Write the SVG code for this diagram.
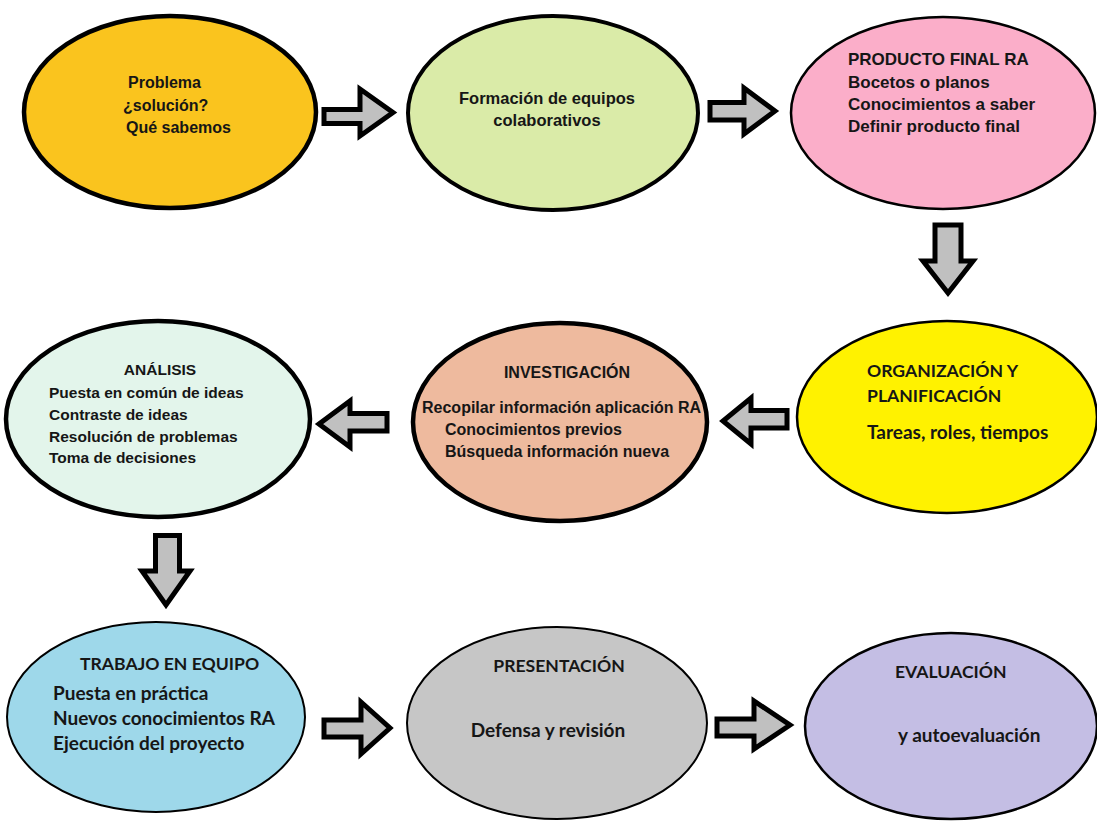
<svg xmlns="http://www.w3.org/2000/svg" width="1097" height="821" viewBox="0 0 1097 821">
<style>
.arial{font-family:"Liberation Sans",Arial,sans-serif;font-weight:bold;fill:#161616}
.cal{font-family:Lato,"Liberation Sans",sans-serif;font-weight:bold;fill:#161616}
.cap{font-size:17.6px}
.low{font-size:19px}
.arr{fill:#C0C0C0;stroke:#000;stroke-width:5;stroke-linejoin:miter}
</style>
<rect width="1097" height="821" fill="#fff"/>
<g id="n1">
<ellipse cx="170" cy="112" rx="146" ry="96" fill="#FAC41E" stroke="#000" stroke-width="4.5"/>
<text class="arial" font-size="16"><tspan x="128" y="88">Problema</tspan><tspan x="123" y="111">¿solución?</tspan><tspan x="126" y="133">Qué sabemos</tspan></text>
</g>
<g id="n2">
<ellipse cx="553" cy="113" rx="145" ry="97" fill="#DAEBA8" stroke="#000" stroke-width="4"/>
<text class="arial" font-size="16.5" text-anchor="middle"><tspan x="547" y="104">Formación de equipos</tspan><tspan x="547" y="126">colaborativos</tspan></text>
</g>
<g id="n3">
<ellipse cx="943" cy="113" rx="152" ry="96" fill="#FBAEC9" stroke="#000" stroke-width="2.5"/>
<text class="arial" font-size="17"><tspan x="848" y="65">PRODUCTO FINAL RA</tspan><tspan x="848" y="88">Bocetos o planos</tspan><tspan x="848" y="110">Conocimientos a saber</tspan><tspan x="848" y="132">Definir producto final</tspan></text>
</g>
<g id="n4">
<ellipse cx="158" cy="419" rx="152" ry="98" fill="#E3F5EB" stroke="#000" stroke-width="4.5"/>
<text class="arial" font-size="15.5"><tspan x="160" y="375" text-anchor="middle">ANÁLISIS</tspan><tspan x="49" y="398">Puesta en común de ideas</tspan><tspan x="49" y="420">Contraste de ideas</tspan><tspan x="49" y="442">Resolución de problemas</tspan><tspan x="49" y="463">Toma de decisiones</tspan></text>
</g>
<g id="n5">
<ellipse cx="560" cy="422" rx="147" ry="99" fill="#EEBA9E" stroke="#000" stroke-width="4.5"/>
<text class="arial" font-size="16"><tspan x="567" y="378" text-anchor="middle">INVESTIGACIÓN</tspan><tspan x="422" y="413">Recopilar información aplicación RA</tspan><tspan x="445" y="435">Conocimientos previos</tspan><tspan x="445" y="457">Búsqueda información nueva</tspan></text>
</g>
<g id="n6">
<ellipse cx="947" cy="417" rx="150" ry="96" fill="#FFF200" stroke="#000" stroke-width="2.5"/>
<text class="cal"><tspan class="cap" x="867" y="377">ORGANIZACIÓN Y</tspan><tspan class="cap" x="867" y="402">PLANIFICACIÓN</tspan><tspan class="low" x="867" y="439">Tareas, roles, tiempos</tspan></text>
</g>
<g id="n7">
<ellipse cx="156" cy="717" rx="149" ry="95" fill="#9ED8EA" stroke="#000" stroke-width="2"/>
<text class="cal"><tspan class="cap" x="80" y="670">TRABAJO EN EQUIPO</tspan><tspan class="low" x="53" y="700">Puesta en práctica</tspan><tspan class="low" x="53" y="725">Nuevos conocimientos RA</tspan><tspan class="low" x="53" y="750">Ejecución del proyecto</tspan></text>
</g>
<g id="n8">
<ellipse cx="557" cy="723" rx="150" ry="96" fill="#C6C6C6" stroke="#000" stroke-width="2"/>
<text class="cal" text-anchor="middle"><tspan class="cap" x="559" y="672">PRESENTACIÓN</tspan><tspan class="low" x="548" y="737">Defensa y revisión</tspan></text>
</g>
<g id="n9">
<ellipse cx="951" cy="726" rx="146" ry="93" fill="#C4BEE4" stroke="#000" stroke-width="2.5"/>
<text class="cal"><tspan class="cap" x="895" y="678">EVALUACIÓN</tspan><tspan class="low" x="898" y="742">y autoevaluación</tspan></text>
</g>
<g id="connectors">
<path class="arr" d="M324,109.5 H360 V89 L393,112.5 L360,136 V123.5 H324 Z"/>
<path class="arr" d="M710,102.5 H744 V88 L775,111 L744,134 V120 H710 Z"/>
<path class="arr" d="M935,225 H961 V261 H973 L948,293 L923,261 H935 Z"/>
<path class="arr" d="M787,410.5 H751 V398 L723,421 L751,444 V428 H787 Z"/>
<path class="arr" d="M387,413.5 H350 V401 L319,424 L350,447 V431 H387 Z"/>
<path class="arr" d="M155.5,535.5 H179.5 V571 H190 L166,605 L142,571 H155.5 Z"/>
<path class="arr" d="M324,720 H361 V702 L390,728 L361,754 V737 H324 Z"/>
<path class="arr" d="M717,719 H754 V701 L790,725 L754,749 V736 H717 Z"/>
</g>
</svg>
